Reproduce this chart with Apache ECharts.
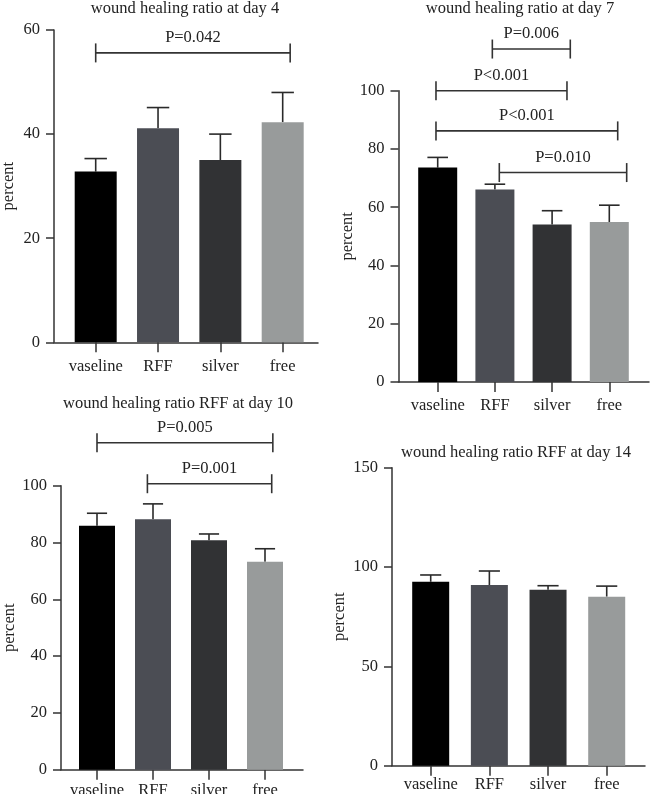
<!DOCTYPE html>
<html>
<head>
<meta charset="utf-8">
<script src="https://cdn.jsdelivr.net/npm/echarts@6/dist/echarts.min.js"></script>
<style>html,body{margin:0;padding:0;background:#fff;}#c{width:650px;height:794px;}</style>
</head>
<body>
<div id="c"></div>
<script>
// ---- data ----
const categories = ['vaseline', 'RFF', 'silver', 'free'];
const panelTitles = ['wound healing ratio at day 4', 'wound healing ratio at day 7',
  'wound healing ratio RFF at day 10', 'wound healing ratio RFF at day 14'];
const yAxisName = 'percent';

const day4Mean = [32.8, 41.1, 35.0, 42.3];
const day4Err = [2.5, 4.0, 5.0, 5.7];
const day7Mean = [73.6, 66.1, 54.1, 54.9];
const day7Err = [3.5, 1.8, 4.7, 5.8];
const day10Mean = [85.9, 88.2, 80.8, 73.2];
const day10Err = [4.4, 5.4, 2.2, 4.6];
const day14Mean = [92.6, 90.9, 88.6, 85.1];
const day14Err = [3.4, 7.1, 2.0, 5.3];

const yMax = [60, 100, 100, 150];
const yInterval = [20, 20, 20, 50];

// brackets: [from category, to category, value]
const day4Brackets = [[0, 3.12, 55.6]];
const day4BracketLabels = ['P=0.042'];
const day7Brackets = [[0.955, 2.318, 114.3], [-0.03, 2.26, 100.0], [-0.03, 3.147, 86.2], [1.077, 3.304, 71.9]];
const day7BracketLabels = ['P=0.006', 'P<0.001', 'P<0.001', 'P=0.010'];
const day10Brackets = [[0, 3.14, 115.1], [0.9, 3.12, 100.7]];
const day10BracketLabels = ['P=0.005', 'P=0.001'];
const day14Brackets = [];
const day14BracketLabels = [];

// ---- layout / style ----
const barColors = ['#000000', '#4b4d54', '#313234', '#989b9b'];
const FONT = '"Liberation Serif", "Times New Roman", serif';
const FS = 16.5;
const TXT = '#222';
const AX = '#333';

const layout = [
  { yx: 54, top: 30, bottom0: 342.3, xEnd: 318, c0: 95.7, sp: 62.33, barW: 42, nameGap: 37, catMargin: 16, titleX: 185, titleY: 8 },
  { yx: 398.5, top: 90.7, bottom0: 382, xEnd: 649, c0: 437.7, sp: 57.2, barW: 39, nameGap: 37, catMargin: 15, titleX: 520, titleY: 8 },
  { yx: 61, top: 485.7, bottom0: 769.7, xEnd: 303, c0: 97, sp: 56, barW: 36, nameGap: 43, catMargin: 12, titleX: 178, titleY: 403 },
  { yx: 392, top: 467.7, bottom0: 765.7, xEnd: 645, c0: 430.7, sp: 58.67, barW: 37, nameGap: 44, catMargin: 10, titleX: 516, titleY: 452 }
];

const means = [day4Mean, day7Mean, day10Mean, day14Mean];
const errs = [day4Err, day7Err, day10Err, day14Err];
const brackets = [day4Brackets, day7Brackets, day10Brackets, day14Brackets];
const bracketLabels = [day4BracketLabels, day7BracketLabels, day10BracketLabels, day14BracketLabels];

const grid = [], xAxis = [], yAxis = [], series = [], title = [];

layout.forEach((L, p) => {
  const h = L.bottom0 - L.top;
  const gA = grid.length;
  grid.push({ left: L.yx, top: L.top, width: L.xEnd - L.yx, height: h, containLabel: false, outerBoundsMode: 'none' });
  const gB = grid.length;
  const bLeft = L.c0 - L.sp / 2;
  grid.push({ left: bLeft, top: L.top, width: L.sp * 4, height: h, containLabel: false, outerBoundsMode: 'none' });

  // frame axes
  const xFrame = xAxis.length;
  xAxis.push({ gridIndex: gA, type: 'value', min: 0, max: 1,
    axisLine: { show: true, onZero: false, lineStyle: { color: AX, width: 1.5 } },
    axisTick: { show: false }, axisLabel: { show: false }, splitLine: { show: false } });
  const yFrame = yAxis.length;
  yAxis.push({ gridIndex: gA, type: 'value', min: 0, max: yMax[p], interval: yInterval[p],
    name: yAxisName, nameLocation: 'middle', nameGap: L.nameGap, nameRotate: 90,
    nameTextStyle: { fontFamily: FONT, fontSize: FS, color: TXT },
    axisLine: { show: true, lineStyle: { color: AX, width: 1.5 } },
    axisTick: { show: true, length: 8, lineStyle: { color: AX, width: 1.5 } },
    axisLabel: { fontFamily: FONT, fontSize: FS, color: TXT, margin: 14 },
    splitLine: { show: false } });
  series.push({ type: 'line', xAxisIndex: xFrame, yAxisIndex: yFrame, data: [], silent: true });

  // bar axes
  const xCat = xAxis.length;
  xAxis.push({ gridIndex: gB, type: 'category', data: categories,
    axisLine: { show: false },
    axisTick: { show: true, alignWithLabel: true, length: 10, lineStyle: { color: AX, width: 1.5 } },
    axisLabel: { fontFamily: FONT, fontSize: FS, color: TXT, margin: L.catMargin, interval: 0 } });
  const xVal = xAxis.length;
  xAxis.push({ gridIndex: gB, type: 'value', min: -0.5, max: 3.5, show: false });
  const yB = yAxis.length;
  yAxis.push({ gridIndex: gB, type: 'value', min: 0, max: yMax[p], interval: yInterval[p], show: false, splitLine: { show: false } });

  series.push({
    type: 'bar', xAxisIndex: xCat, yAxisIndex: yB, barWidth: L.barW, z: 3,
    data: means[p].map((v, i) => ({ value: v, itemStyle: { color: barColors[i] } }))
  });

  const errData = means[p].map((v, i) => [i, v, errs[p][i]]);
  series.push({
    type: 'custom', xAxisIndex: xCat, yAxisIndex: yB, z: 2, clip: false,
    encode: { x: 0, y: 1 },
    data: errData,
    renderItem: function (params, api) {
      const i = api.value(0), m = api.value(1), e = api.value(2);
      const base = api.coord([i, m]);
      const topP = api.coord([i, m + e]);
      const half = api.size([1, 0])[0] * 0.18;
      const st = { stroke: '#2a2a2a', lineWidth: 1.6 };
      return { type: 'group', children: [
        { type: 'line', shape: { x1: base[0], y1: base[1], x2: topP[0], y2: topP[1] }, style: st },
        { type: 'line', shape: { x1: topP[0] - half, y1: topP[1], x2: topP[0] + half, y2: topP[1] }, style: st }
      ] };
    }
  });

  if (brackets[p].length) {
    const labs = bracketLabels[p];
    series.push({
      type: 'custom', xAxisIndex: xVal, yAxisIndex: yB, z: 4, clip: false,
      encode: { x: [0, 1], y: 2 },
      data: brackets[p],
      renderItem: function (params, api) {
        const x1 = api.value(0), x2 = api.value(1), y = api.value(2);
        const a = api.coord([x1, y]), b = api.coord([x2, y]);
        const st = { stroke: '#333', lineWidth: 1.6 };
        return { type: 'group', children: [
          { type: 'line', shape: { x1: a[0], y1: a[1], x2: b[0], y2: b[1] }, style: st },
          { type: 'line', shape: { x1: a[0], y1: a[1] - 9.5, x2: a[0], y2: a[1] + 9.5 }, style: st },
          { type: 'line', shape: { x1: b[0], y1: b[1] - 9.5, x2: b[0], y2: b[1] + 9.5 }, style: st },
          { type: 'text', x: (a[0] + b[0]) / 2, y: a[1] - 15,
            style: { text: labs[params.dataIndex], align: 'center', verticalAlign: 'middle',
              fontFamily: FONT, fontSize: FS, fill: TXT } }
        ] };
      }
    });
  }

  title.push({ text: panelTitles[p], left: L.titleX, top: L.titleY - 8, padding: 0,
    textAlign: 'center',
    textStyle: { fontFamily: FONT, fontSize: FS, fontWeight: 'normal', color: TXT } });
});

const chart = echarts.init(document.getElementById('c'), null, { renderer: 'canvas' });
chart.setOption({ animation: false, backgroundColor: '#fff', title, grid, xAxis, yAxis, series });
</script>
</body>
</html>
